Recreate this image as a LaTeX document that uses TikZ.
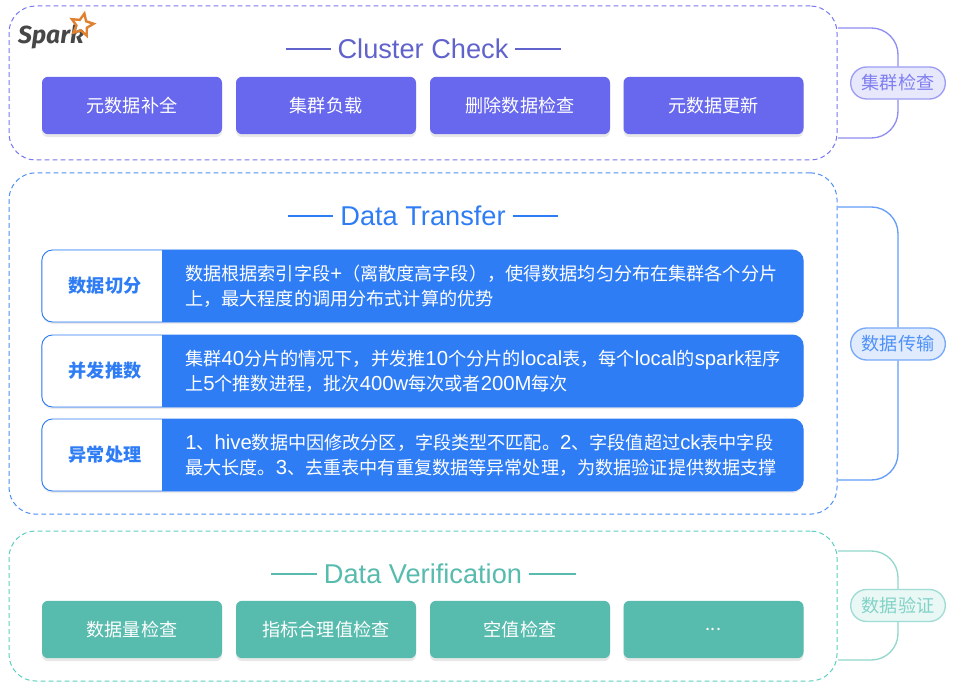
\documentclass[tikz,border=0pt]{standalone}
\usepackage{fontspec}
\setmainfont{Noto Sans CJK SC}
\newfontfamily\logofont{Fira Sans}
\newfontfamily\latfont{Liberation Sans}
\newfontfamily\bodylat[Scale=1.12]{Liberation Sans}
\newcommand{\lat}[1]{{\bodylat #1}}
\usetikzlibrary{shapes.geometric,shadows}
\definecolor{sparkpurple}{HTML}{6868EE}
\definecolor{sparkblue}{HTML}{2F7DF5}
\definecolor{sparkteal}{HTML}{57BBAD}
\definecolor{ttlpurple}{HTML}{6163CC}
\definecolor{tealframe}{HTML}{5CCFC0}
\definecolor{tealtag}{HTML}{6CCBBD}
\definecolor{logoorange}{HTML}{E0812F}
\begin{document}
\begin{tikzpicture}[x=0.75pt, y=-0.75pt,
    group/.style={draw=#1, dashed, line width=0.75pt, dash pattern=on 3.6pt off 2.4pt, rounded corners=20pt, minimum width=621pt, inner sep=0pt},
    ttl/.style={text=#1, font=\latfont\fontsize{20.4}{24}\selectfont, inner sep=5pt},
    ttlline/.style={draw=#1, line width=0.9pt},
    cell/.style={fill=#1, text=white, rounded corners=4.5pt, minimum width=135pt, minimum height=43pt, inner sep=0pt, font=\fontsize{13.6}{16}\selectfont, drop shadow={opacity=0.18, shadow xshift=0pt, shadow yshift=-2.2pt}},
    tag/.style={draw=#1!65, fill=#1!15, text=#1!85, line width=1pt, rounded corners=12pt, minimum width=71pt, minimum height=24pt, inner sep=0pt, font=\fontsize{13.6}{16}\selectfont},
    bracket/.style={draw=#1!75, line width=1pt, rounded corners=20pt},
    rowbox/.style={draw=sparkblue, fill=sparkblue, line width=0.7pt, rounded corners=8pt, minimum width=571pt, minimum height=54pt, inner sep=0pt,
        drop shadow={opacity=0.15, shadow xshift=0pt, shadow yshift=-1.5pt},
        path picture={\fill[white, sharp corners] (path picture bounding box.north west) rectangle ([xshift=90pt]path picture bounding box.south west);}},
    rowname/.style={text=sparkblue, font=\fontsize{13.6}{16}\selectfont\bfseries, inner sep=0pt},
    rowtext/.style={text=white, anchor=west, align=left, inner sep=0pt, font=\fontsize{13.6}{18.75}\selectfont}]
    \useasboundingbox[fill=white] (0,0) rectangle (954,688);

    \node[group=sparkpurple!90, minimum height=115.5pt] (check) at (423,83) {};
    \node[group=sparkblue!85, minimum height=256pt] (transfer) at (423,343.5) {};
    \node[group=tealframe, minimum height=112.5pt] (verify) at (423,606) {};

    \node[text=black!72, font=\logofont\itshape\bfseries\fontsize{18.5}{20}\selectfont, inner sep=0pt] (logotext) at (51,37) {Spark};
    \node[star, star points=5, star point ratio=2.1, draw=logoorange, line width=1.8pt, minimum size=17.5pt, inner sep=0pt, rotate=-12] (logostar) at (82,25) {};

    \node[ttl=ttlpurple] (ttlcheck) at (423,49) {Cluster Check};
    \coordinate (checka) at (286,49);
    \coordinate (checkb) at (561,49);
    \draw[ttlline=ttlpurple] (checka) -- (ttlcheck);
    \draw[ttlline=ttlpurple] (ttlcheck) -- (checkb);

    \node[cell=sparkpurple] (chk1) at (132,105.5) {元数据补全};
    \node[cell=sparkpurple] (chk2) at (326,105.5) {集群负载};
    \node[cell=sparkpurple] (chk3) at (520,105.5) {删除数据检查};
    \node[cell=sparkpurple] (chk4) at (713.5,105.5) {元数据更新};

    \node[ttl=sparkblue] (ttltransfer) at (423,216) {Data Transfer};
    \coordinate (transfera) at (288,216);
    \coordinate (transferb) at (558,216);
    \draw[ttlline=sparkblue] (transfera) -- (ttltransfer);
    \draw[ttlline=sparkblue] (ttltransfer) -- (transferb);

    \node[rowbox] (row1) at (422.5,286) {};
    \node[rowbox] (row2) at (422.5,371) {};
    \node[rowbox] (row3) at (422.5,455) {};
    \node[rowname] (name1) at (105,286) {数据切分};
    \node[rowname] (name2) at (105,371) {并发推数};
    \node[rowname] (name3) at (105,455) {异常处理};
    \node[rowtext] (text1) at (185,286.5) {数据根据索引字段\lat{+}（离散度高字段），使得数据均匀分布在集群各个分片\\上，最大程度的调用分布式计算的优势};
    \node[rowtext] (text2) at (185,371.5) {集群\lat{40}分片的情况下，并发推\lat{10}个分片的\lat{local}表，每个\lat{local}的\lat{spark}程序\\上\lat{5}个推数进程，批次\lat{400w}每次或者\lat{200M}每次};
    \node[rowtext] (text3) at (185,455.5) {\lat{1}、\lat{hive}数据中因修改分区，字段类型不匹配。\lat{2}、字段值超过\lat{ck}表中字段\\最大长度。\lat{3}、去重表中有重复数据等异常处理，为数据验证提供数据支撑};

    \node[ttl=sparkteal] (ttlverify) at (423,574) {Data Verification};
    \coordinate (verifya) at (271,574);
    \coordinate (verifyb) at (576,574);
    \draw[ttlline=sparkteal] (verifya) -- (ttlverify);
    \draw[ttlline=sparkteal] (ttlverify) -- (verifyb);

    \node[cell=sparkteal] (ver1) at (132,629.5) {数据量检查};
    \node[cell=sparkteal] (ver2) at (326,629.5) {指标合理值检查};
    \node[cell=sparkteal] (ver3) at (520,629.5) {空值检查};
    \node[cell=sparkteal] (ver4) at (713.5,629.5) {...};

    \node[tag=sparkpurple] (tagcheck) at (898,83) {集群检查};
    \node[tag=sparkblue] (tagtransfer) at (898,344) {数据传输};
    \node[tag=tealtag] (tagverify) at (898,605.5) {数据验证};

    \coordinate (check1) at (838,28);
    \coordinate (check2) at (838,138);
    \coordinate (transfer1) at (838,207);
    \coordinate (transfer2) at (838,480);
    \coordinate (verify1) at (838,551);
    \coordinate (verify2) at (838,660);
    \draw[bracket=sparkpurple] (check1) -| (tagcheck.north);
    \draw[bracket=sparkpurple] (check2) -| (tagcheck.south);
    \draw[bracket=sparkblue] (transfer1) -| (tagtransfer.north);
    \draw[bracket=sparkblue] (transfer2) -| (tagtransfer.south);
    \draw[bracket=tealtag] (verify1) -| (tagverify.north);
    \draw[bracket=tealtag] (verify2) -| (tagverify.south);
\end{tikzpicture}
\end{document}
